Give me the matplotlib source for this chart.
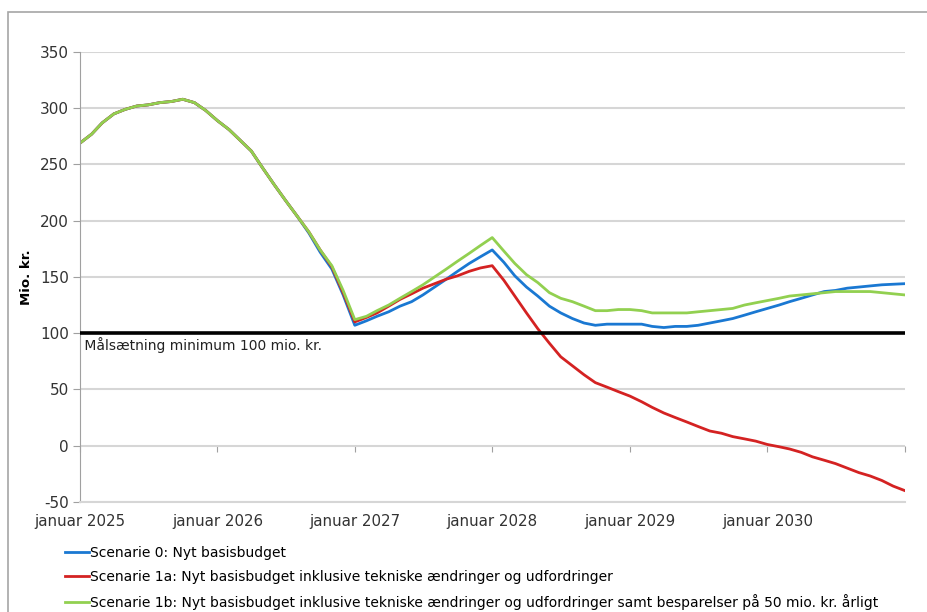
import matplotlib.pyplot as plt
import pandas as pd
from matplotlib.patches import Rectangle

plt.rcParams['font.family'] = ['DejaVu Sans']
plt.rcParams['axes.unicode_minus'] = False

# monthly values, januar 2025 - januar 2031 (mio. kr.)
months = pd.date_range('2025-01-01', '2031-01-01', freq='MS')

scenarie_0 = [269, 277, 287, 295, 299, 302, 303, 305, 306, 308, 305, 298,
              289, 281, 272, 262, 247, 232, 218, 204, 189, 172, 157, 134,
              107, 111, 115, 119, 124, 128, 134, 141, 148, 155, 162, 168,
              174, 163, 151, 141, 133, 124, 118, 113, 109, 107, 108, 108,
              108, 108, 106, 105, 106, 106, 107, 109, 111, 113, 116, 119,
              122, 125, 128, 131, 134, 137, 138, 140, 141, 142, 143, 143.5,
              144]
scenarie_1a = [269, 277, 287, 295, 299, 302, 303, 305, 306, 308, 305, 298,
               289, 281, 272, 262, 247, 232, 218, 204, 190, 174, 159, 136,
               110, 114, 118, 124, 130, 135, 140, 144, 148, 151, 155, 158,
               160, 147, 133, 118, 104, 91, 79, 71, 63, 56, 52, 48,
               44, 39, 34, 29, 25, 21, 17, 13, 11, 8, 6, 4,
               1, -1, -3, -6, -10, -13, -16, -20, -24, -27, -31, -36,
               -40]
scenarie_1b = [269, 277, 287, 295, 299, 302, 303, 305, 306, 308, 305, 298,
               289, 281, 272, 262, 247, 232, 218, 204, 190, 174, 160, 138,
               112, 115, 120, 125, 131, 137, 143, 150, 157, 164, 171, 178,
               185, 173, 162, 152, 145, 136, 131, 128, 124, 120, 120, 121,
               121, 120, 118, 118, 118, 118, 119, 120, 121, 122, 125, 127,
               129, 131, 133, 134, 135, 136, 137, 137, 137, 137, 136, 135,
               134]

labels = ['Scenarie 0: Nyt basisbudget',
          'Scenarie 1a: Nyt basisbudget inklusive tekniske ændringer og udfordringer',
          'Scenarie 1b: Nyt basisbudget inklusive tekniske ændringer og udfordringer samt besparelser på 50 mio. kr. årligt']
colors = ['#1a78d2', '#d42222', '#92d050']
target = 100

fig = plt.figure(figsize=(9.28, 6.12), dpi=100)
ax = fig.add_axes([0.0862, 0.18, 0.8888, 0.735])

# outer chart border
fig.patches.append(Rectangle((0.009, -0.01), 1.2, 0.99, transform=fig.transFigure,
                             fill=False, edgecolor='#a6a6a6', linewidth=1.2))

for vals, lab, col in zip([scenarie_0, scenarie_1a, scenarie_1b], labels, colors):
    ax.plot(months, vals, color=col, linewidth=2.0, label=lab)

ax.axhline(target, color='black', linewidth=2.6, zorder=3)
ax.text(months[0], target - 3.5, ' Målsætning minimum 100 mio. kr.', fontsize=10,
        color='#222222', va='top', ha='left')

ax.set_ylim(-50, 350)
ax.set_yticks(range(-50, 351, 50))
ax.set_xlim(months[0], months[-1])
ax.yaxis.grid(True, color='#d6d6d6', linewidth=1.5)
ax.set_axisbelow(True)

year_ticks = pd.date_range('2025-01-01', '2031-01-01', freq='YS')
ax.set_xticks(year_ticks)
ax.set_xticklabels([f'januar {d.year}' if d.year < 2031 else '' for d in year_ticks])
ax.tick_params(axis='x', length=0, pad=9, labelsize=10.8, labelcolor='#333333')
ax.tick_params(axis='y', length=5, color='#a0a0a0', labelsize=11, labelcolor='#333333', pad=3)

for side in ['top', 'right']:
    ax.spines[side].set_visible(False)
ax.spines['left'].set_color('#a0a0a0')
ax.spines['bottom'].set_color('#d6d6d6')
ax.spines['bottom'].set_linewidth(1.5)

# category axis crossing at 0
sec = ax.secondary_xaxis(50 / 400)
sec.set_xticks(year_ticks)
sec.set_xticklabels([])
sec.tick_params(axis='x', length=4, color='#a0a0a0')
sec.spines['bottom'].set_visible(False)

ax.set_ylabel('Mio. kr.', fontsize=9.5, fontweight='bold', labelpad=5)

fig.legend(loc='upper left', bbox_to_anchor=(0.064, 0.117), frameon=False,
           fontsize=10, handlelength=1.75, handletextpad=0.05, labelspacing=0.72,
           borderaxespad=0)

fig.savefig('out.png', dpi=100)
